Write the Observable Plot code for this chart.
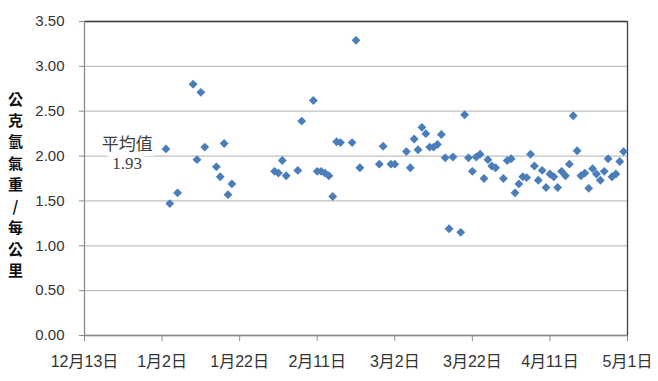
<!DOCTYPE html>
<html>
<head>
<meta charset="utf-8">
<script src="https://cdn.jsdelivr.net/npm/d3@7"></script>
<script src="https://cdn.jsdelivr.net/npm/@observablehq/plot@0.6"></script>
<style>
  html, body { margin: 0; padding: 0; background: #fff; }
  #chart { width: 658px; height: 381px; overflow: hidden; }
</style>
</head>
<body>
<div id="chart"></div>
<script>
// Measurement dates (Dec 2011 – Apr 2012)
const dates = [
  "2012-01-03","2012-01-04","2012-01-06","2012-01-10","2012-01-11","2012-01-12","2012-01-13",
  "2012-01-16","2012-01-17","2012-01-18","2012-01-19","2012-01-20",
  "2012-01-31","2012-02-01","2012-02-02","2012-02-03","2012-02-06","2012-02-07","2012-02-10",
  "2012-02-11","2012-02-12","2012-02-13","2012-02-14","2012-02-15","2012-02-16","2012-02-17",
  "2012-02-20","2012-02-21","2012-02-22","2012-02-27","2012-02-28",
  "2012-03-01","2012-03-02","2012-03-05","2012-03-06","2012-03-07","2012-03-08","2012-03-09",
  "2012-03-10","2012-03-11","2012-03-12","2012-03-13","2012-03-14","2012-03-15","2012-03-16",
  "2012-03-17","2012-03-19","2012-03-20","2012-03-21","2012-03-22","2012-03-23","2012-03-24",
  "2012-03-25","2012-03-26","2012-03-27","2012-03-28","2012-03-30","2012-03-31",
  "2012-04-01","2012-04-02","2012-04-03","2012-04-04","2012-04-05","2012-04-06","2012-04-07",
  "2012-04-08","2012-04-09","2012-04-10","2012-04-11","2012-04-12","2012-04-13","2012-04-14",
  "2012-04-15","2012-04-16","2012-04-17","2012-04-18","2012-04-19","2012-04-20","2012-04-21",
  "2012-04-22","2012-04-23","2012-04-24","2012-04-25","2012-04-26","2012-04-27","2012-04-28",
  "2012-04-29","2012-04-30"
];
// Grams of hydrogen per km
const values = [
  2.08,1.47,1.59,2.80,1.96,2.71,2.10,
  1.88,1.77,2.14,1.57,1.69,
  1.83,1.81,1.95,1.78,1.84,2.39,2.62,
  1.83,1.83,1.81,1.78,1.55,2.16,2.15,
  2.15,3.29,1.87,1.91,2.11,
  1.91,1.91,2.05,1.87,2.19,2.07,2.32,
  2.25,2.10,2.10,2.13,2.24,1.98,1.19,
  1.99,1.15,2.46,1.98,1.83,1.99,2.02,
  1.75,1.96,1.89,1.87,1.75,1.95,
  1.97,1.59,1.69,1.77,1.76,2.02,1.89,
  1.73,1.84,1.65,1.80,1.77,1.65,1.83,
  1.78,1.91,2.45,2.06,1.78,1.81,1.64,
  1.86,1.80,1.73,1.83,1.97,1.77,1.80,
  1.94,2.05
];
const xTickDates = ["2011-12-13","2012-01-02","2012-01-22","2012-02-11","2012-03-02","2012-03-22","2012-04-11","2012-05-01"];
const yTickValues = [0, 0.5, 1.0, 1.5, 2.0, 2.5, 3.0, 3.5];
const yLabelChars = ["公","克","氫","氣","重","/","每","公","里"];
const meanLabel = "平均值";
const meanValue = 1.93;
const meanLabelAnchor = [{date: "2011-12-24", value: 2.035}];

const data = dates.map((d, i) => ({date: new Date(d), value: values[i]}));
const xTicks = xTickDates.map(d => new Date(d));
const annotation = meanLabelAnchor.map(a => ({date: new Date(a.date), value: a.value, text: `${meanLabel}\n${meanValue.toFixed(2)}`}));

const chart = Plot.plot({
  width: 658,
  height: 381,
  marginLeft: 84,
  marginRight: 31,
  marginTop: 21,
  marginBottom: 46,
  style: {fontFamily: "'Liberation Sans', 'Noto Sans CJK TC', sans-serif", fontSize: "15px", color: "#333", background: "#fff"},
  x: {type: "utc", domain: [xTicks[0], xTicks[xTicks.length - 1]]},
  y: {domain: [0, 3.5]},
  marks: [
    Plot.gridY(yTickValues, {stroke: "#c0c0c0", strokeOpacity: 1, strokeWidth: 1.3}),
    Plot.ruleY([3.5], {stroke: "#404040", strokeWidth: 1.3}),
    Plot.ruleY([0], {stroke: "#8a8a8a", strokeWidth: 1.3}),
    Plot.ruleX([xTicks[0]], {stroke: "#8a8a8a", strokeWidth: 1.3}),
    Plot.ruleX([xTicks[xTicks.length - 1]], {stroke: "#404040", strokeWidth: 1.3}),
    Plot.axisY(yTickValues, {tickSize: 5, tickPadding: 15, tickFormat: d3.format(".2f"), stroke: "#8a8a8a", fill: "#333", fontSize: 15, label: null}),
    Plot.axisX(xTicks, {tickSize: 6, tickPadding: 14, tickFormat: d => `${d.getUTCMonth() + 1}月${d.getUTCDate()}日`, stroke: "#8a8a8a", fill: "#333", fontSize: 16, label: null}),
    Plot.text(annotation, {x: "date", y: "value", text: "text", fontFamily: "'Liberation Serif', 'Noto Sans CJK TC', serif", fontSize: 17, lineHeight: 1.12, fill: "#404040", stroke: "#fff", strokeWidth: 10, textAnchor: "middle", lineAnchor: "middle"}),
    Plot.text([yLabelChars.join("\n")], {text: d => d, frameAnchor: "left", dx: -69, dy: 5, fontFamily: "'Noto Sans CJK TC', sans-serif", fontWeight: "bold", fontSize: 15, lineHeight: 1.43, fill: "#111", textAnchor: "middle", lineAnchor: "middle"}),
    Plot.dot(data, {x: "date", y: "value", symbol: "diamond2", r: 4, fill: "#4a7ebb", stroke: "none"})
  ]
});
document.getElementById("chart").appendChild(chart);
</script>
</body>
</html>
